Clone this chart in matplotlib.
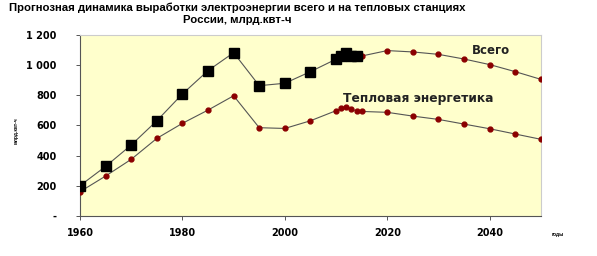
import matplotlib
matplotlib.use('Agg')
from matplotlib import pyplot as plt

# history (squares) and forecast (dots) of total generation
hist_years = [1960, 1965, 1970, 1975, 1980, 1985, 1990, 1995, 2000, 2005, 2010, 2011, 2012, 2013, 2014]
hist_total = [200, 328, 470, 631, 809, 964, 1083, 864, 880, 957, 1040, 1060, 1080, 1062, 1058]
fc_years = [2015, 2020, 2025, 2030, 2035, 2040, 2045, 2050]
fc_total = [1061, 1097, 1088, 1072, 1041, 1004, 957, 906]

# thermal generation
th_years = [1960, 1965, 1970, 1975, 1980, 1985, 1990, 1995, 2000, 2005, 2010, 2011, 2012, 2013, 2014,
            2015, 2020, 2025, 2030, 2035, 2040, 2045, 2050]
th_values = [160, 264, 375, 514, 614, 702, 797, 585, 580, 631, 698, 713, 724, 707, 698,
             693, 687, 662, 640, 609, 578, 543, 508]

y_ticks = [0, 200, 400, 600, 800, 1000, 1200]
y_labels = ['-', '200', '400', '600', '800', '1 000', '1 200']
x_ticks = [1960, 1980, 2000, 2020, 2040]

title = 'Прогнозная динамика выработки электроэнергии всего и на тепловых станциях\nРоссии, млрд.квт-ч'

plt.rcParams['font.family'] = ['Liberation Sans', 'DejaVu Sans']

fig = plt.figure(figsize=(5.97, 2.56), dpi=100)
ax = fig.add_axes([0.134, 0.157, 0.772, 0.706])
ax.set_facecolor('#ffffcc')

line_col = '#555555'
dot_col = '#8b0000'

# total: one line, squares for history, dots for forecast
ax.plot(hist_years + fc_years, hist_total + fc_total, color=line_col, lw=0.8, zorder=2)
ax.plot(fc_years, fc_total, 'o', color=dot_col, ms=3.5, zorder=3)
ax.plot(hist_years, hist_total, 's', color='black', ms=6.5, zorder=4)

# thermal
ax.plot(th_years, th_values, '-o', color=line_col, lw=0.8, mfc=dot_col, mec=dot_col, ms=3.5, zorder=3)

ax.text(2036.5, 1100, 'Всего', fontsize=8.5, fontweight='bold', family='DejaVu Sans',
        va='center', ha='left', color='#222222')
ax.text(2011.3, 782, 'Тепловая энергетика', fontsize=8.8, fontweight='bold',
        family='DejaVu Sans', va='center', ha='left', color='#222222')

ax.set_xlim(1960, 2050)
ax.set_ylim(0, 1200)
ax.set_xticks(x_ticks)
ax.set_yticks(y_ticks)
ax.set_yticklabels(y_labels)
ax.tick_params(axis='x', direction='out', length=3, width=0.7, color='#555555', pad=6)
ax.tick_params(axis='y', direction='out', length=3, width=0.7, color='#555555', pad=14)
for lab in ax.get_xticklabels() + ax.get_yticklabels():
    lab.set_fontsize(7)
    lab.set_fontweight('bold')
    lab.set_family('DejaVu Sans')

for side in ['left', 'bottom']:
    ax.spines[side].set_color('#555555')
    ax.spines[side].set_linewidth(0.8)
for side in ['top', 'right']:
    ax.spines[side].set_color('#cccccc')
    ax.spines[side].set_linewidth(0.8)

fig.text(0.397, 0.99, title, ha='center', va='top', fontsize=8.2, fontweight='bold', linespacing=1.25)
fig.text(0.027, 0.49, 'млрд.квт-ч', rotation=90, ha='center', va='center', fontsize=3.5, fontweight='bold')
fig.text(0.935, 0.085, 'годы', ha='center', va='center', fontsize=3.5, fontweight='bold')

fig.savefig('out.png', dpi=100)
